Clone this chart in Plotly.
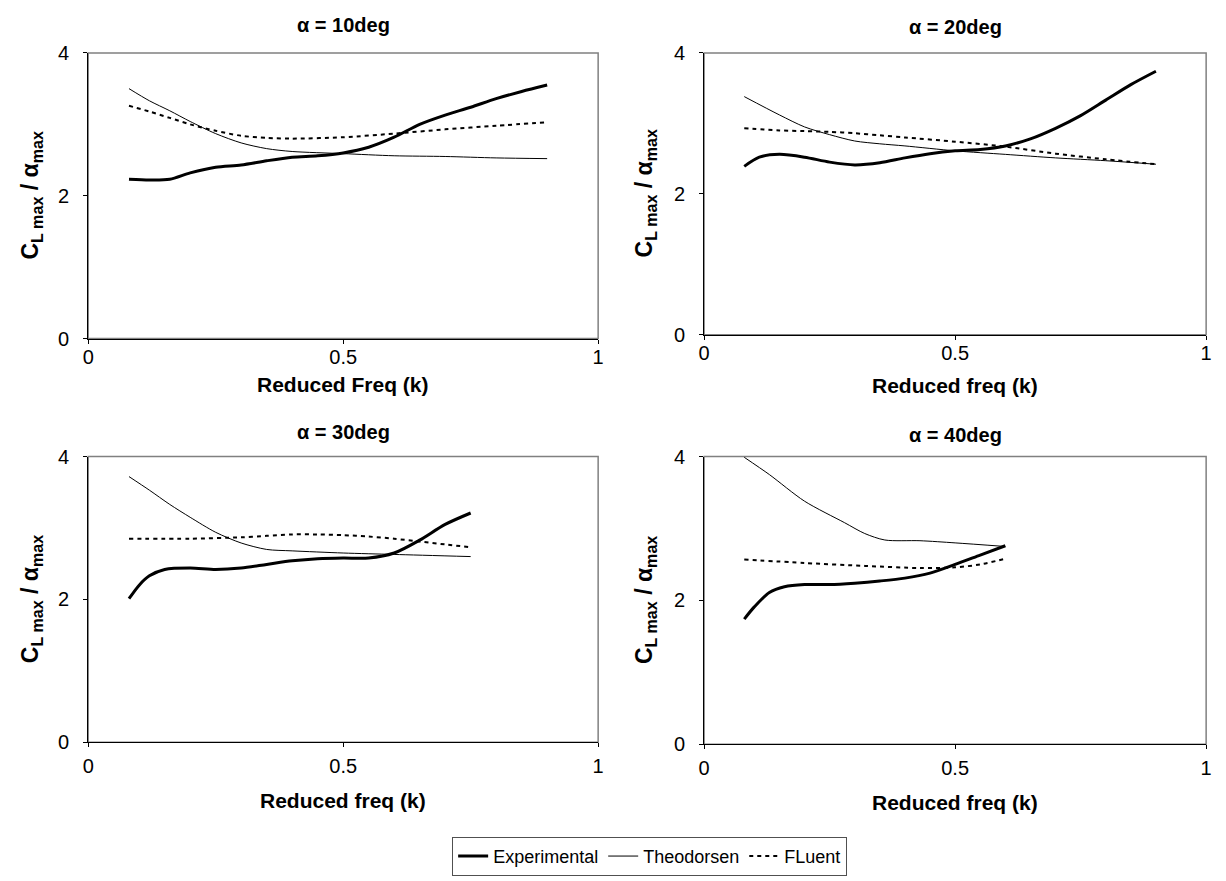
import plotly.graph_objects as go

# ---------------- data ----------------
titles = ["α = 10deg", "α = 20deg", "α = 30deg", "α = 40deg"]
xtitles = ["Reduced Freq (k)", "Reduced freq (k)", "Reduced freq (k)", "Reduced freq (k)"]
series_names = ["Experimental", "Theodorsen", "FLuent"]

# alpha = 10 deg
k10_exp = [0.08, 0.12, 0.16, 0.2, 0.25, 0.3, 0.35, 0.4, 0.45, 0.5, 0.55, 0.6, 0.65, 0.7, 0.75, 0.8, 0.85, 0.9]
exp10 = [2.23, 2.22, 2.23, 2.32, 2.40, 2.43, 2.49, 2.54, 2.56, 2.60, 2.68, 2.82, 3.00, 3.13, 3.24, 3.36, 3.46, 3.55]
k10 = [0.08, 0.12, 0.16, 0.2, 0.25, 0.3, 0.35, 0.4, 0.5, 0.6, 0.7, 0.8, 0.9]
theo10 = [3.50, 3.33, 3.19, 3.04, 2.87, 2.74, 2.66, 2.62, 2.59, 2.56, 2.55, 2.53, 2.52]
flu10 = [3.26, 3.18, 3.09, 3.00, 2.91, 2.84, 2.81, 2.80, 2.82, 2.87, 2.93, 2.98, 3.03]

# alpha = 20 deg
k20_exp = [0.08, 0.11, 0.15, 0.2, 0.25, 0.3, 0.35, 0.4, 0.45, 0.5, 0.55, 0.6, 0.65, 0.7, 0.75, 0.8, 0.85, 0.9]
exp20 = [2.39, 2.52, 2.56, 2.52, 2.45, 2.41, 2.44, 2.51, 2.57, 2.61, 2.63, 2.68, 2.78, 2.93, 3.11, 3.33, 3.55, 3.74]
k20 = [0.08, 0.15, 0.2, 0.25, 0.3, 0.35, 0.4, 0.5, 0.6, 0.7, 0.8, 0.9]
theo20 = [3.38, 3.12, 2.95, 2.84, 2.75, 2.71, 2.68, 2.61, 2.56, 2.51, 2.47, 2.42]
flu20 = [2.93, 2.90, 2.89, 2.88, 2.86, 2.83, 2.80, 2.74, 2.67, 2.57, 2.49, 2.42]

# alpha = 30 deg
k30_exp = [0.08, 0.1, 0.12, 0.15, 0.2, 0.25, 0.3, 0.35, 0.4, 0.45, 0.5, 0.55, 0.6, 0.65, 0.7, 0.75]
exp30 = [2.01, 2.20, 2.33, 2.42, 2.44, 2.42, 2.44, 2.49, 2.54, 2.57, 2.58, 2.58, 2.65, 2.83, 3.05, 3.21]
k30_theo = [0.08, 0.12, 0.16, 0.2, 0.25, 0.3, 0.35, 0.4, 0.5, 0.6, 0.75]
theo30 = [3.72, 3.53, 3.33, 3.15, 2.94, 2.79, 2.70, 2.68, 2.65, 2.63, 2.60]
k30_flu = [0.08, 0.2, 0.3, 0.35, 0.4, 0.45, 0.5, 0.55, 0.6, 0.65, 0.7, 0.75]
flu30 = [2.85, 2.85, 2.87, 2.89, 2.91, 2.91, 2.90, 2.88, 2.85, 2.81, 2.77, 2.73]

# alpha = 40 deg
k40_exp = [0.08, 0.1, 0.13, 0.16, 0.2, 0.25, 0.3, 0.35, 0.4, 0.45, 0.5, 0.55, 0.6]
exp40 = [1.74, 1.91, 2.11, 2.19, 2.22, 2.22, 2.24, 2.27, 2.31, 2.38, 2.50, 2.63, 2.76]
k40_theo = [0.08, 0.13, 0.2, 0.28, 0.32, 0.36, 0.43, 0.5, 0.6]
theo40 = [3.99, 3.75, 3.38, 3.08, 2.93, 2.84, 2.83, 2.80, 2.75]
k40_flu = [0.08, 0.2, 0.32, 0.43, 0.5, 0.55, 0.6]
flu40 = [2.57, 2.52, 2.48, 2.45, 2.46, 2.50, 2.58]

panels = [
    [(k10_exp, exp10), (k10, theo10), (k10, flu10)],
    [(k20_exp, exp20), (k20, theo20), (k20, flu20)],
    [(k30_exp, exp30), (k30_theo, theo30), (k30_flu, flu30)],
    [(k40_exp, exp40), (k40_theo, theo40), (k40_flu, flu40)],
]

# ---------------- layout geometry ----------------
W, H = 1226, 881
xdoms = [[83 / W, 598 / W], [705 / W, 1212 / W], [83 / W, 598 / W], [705 / W, 1212 / W]]
ydoms = [[1 - 336 / H, 1 - 43 / H], [1 - 332 / H, 1 - 43 / H],
         [1 - 750 / H, 1 - 457 / H], [1 - 752 / H, 1 - 457 / H]]
title_y = [14, 16, 432, 435]
xtitle_y = [383, 384, 810, 812]
ytitle_x = [26, 646, 26, 646]
xtick_standoff = [-4, -4, 2, 2]

FONT = "Liberation Sans, Arial, sans-serif"
styles = [dict(width=3, color="black"),
          dict(width=1, color="black"),
          dict(width=2, color="black", dash="4px,4px")]

fig = go.Figure()
for i, panel in enumerate(panels):
    xa = "x" if i == 0 else f"x{i+1}"
    ya = "y" if i == 0 else f"y{i+1}"
    for j, (xs, ys) in enumerate(panel):
        fig.add_trace(go.Scatter(
            x=xs, y=ys, mode="lines", name=series_names[j],
            line=dict(shape="spline", smoothing=0.8, **styles[j]),
            xaxis=xa, yaxis=ya, showlegend=(i == 0), hoverinfo="skip"))

axis_common = dict(showgrid=False, zeroline=False, showline=True, mirror=False,
                   linecolor="black", linewidth=1, ticks="outside", ticklen=4,
                   tickcolor="black", tickfont=dict(family=FONT, size=20, color="black"))

layout = dict(width=W, height=H, margin=dict(l=0, r=0, t=0, b=0),
              paper_bgcolor="white", plot_bgcolor="white",
              font=dict(family=FONT, color="black"),
              legend=dict(orientation="h", x=650 / W, xanchor="center", y=1 - 847 / H, yanchor="top",
                          bordercolor="#505050", borderwidth=1, font=dict(family=FONT, size=18),
                          itemwidth=30, tracegroupgap=0))
annotations = []
shapes = []
for i in range(4):
    sx = "xaxis" if i == 0 else f"xaxis{i+1}"
    sy = "yaxis" if i == 0 else f"yaxis{i+1}"
    xr = "x" if i == 0 else f"x{i+1}"
    yr = "y" if i == 0 else f"y{i+1}"
    layout[sx] = dict(domain=xdoms[i], range=[0, 1], tickvals=[0, 0.5, 1], ticktext=["0", "0.5", "1"],
                      anchor=yr, ticklabelstandoff=xtick_standoff[i], **axis_common)
    layout[sy] = dict(domain=ydoms[i], range=[0, 4], tickvals=[0, 2, 4], ticktext=["0", "2", "4"],
                      anchor=xr, ticklabelstandoff=10, **axis_common)
    shapes.append(dict(type="rect", xref=f"{xr} domain", yref=f"{yr} domain", x0=0, x1=1, y0=0, y1=1,
                       line=dict(color="#808080", width=1.5), layer="below"))
    xc = (xdoms[i][0] + xdoms[i][1]) / 2
    yc = (ydoms[i][0] + ydoms[i][1]) / 2
    annotations.append(dict(text=f"<b>{titles[i]}</b>", x=xc, y=1 - title_y[i] / H, xref="paper", yref="paper",
                            xanchor="center", yanchor="middle", showarrow=False, font=dict(family=FONT, size=20)))
    annotations.append(dict(text=f"<b>{xtitles[i]}</b>", x=xc, y=1 - xtitle_y[i] / H, xref="paper", yref="paper",
                            xanchor="center", yanchor="middle", showarrow=False, font=dict(family=FONT, size=21)))
    annotations.append(dict(text="<b>C<sub>L max</sub> / α<sub>max</sub></b>", x=ytitle_x[i] / W, y=yc,
                            xref="paper", yref="paper", xanchor="center", yanchor="middle", textangle=-90,
                            showarrow=False, font=dict(family=FONT, size=23)))
layout["annotations"] = annotations
layout["shapes"] = shapes
fig.update_layout(**layout)

fig.write_html("out.html")
